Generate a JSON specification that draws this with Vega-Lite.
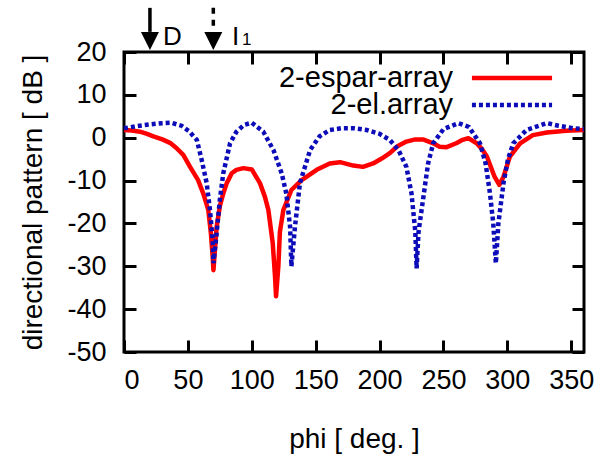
{
  "$schema": "https://vega.github.io/schema/vega-lite/v6.json",
  "width": 460,
  "height": 300,
  "autosize": {"type": "none"},
  "padding": {"left": 124, "top": 52, "right": 29, "bottom": 103},
  "background": "white",
  "config": {
    "font": "Liberation Sans",
    "view": {"stroke": "black", "strokeWidth": 3},
    "axis": {
      "domain": false,
      "grid": false,
      "ticks": true,
      "offset": -12,
      "tickColor": "#000000",
      "tickWidth": 3,
      "tickSize": 12,
      "labelColor": "black",
      "titleColor": "black",
      "labelFontSize": 27,
      "titleFontSize": 28,
      "titleFontWeight": "normal"
    }
  },
  "datasets": {
    "curves": [
      {"phi": 0, "dB": 1.8, "series": "2-espar-array"},
      {"phi": 6, "dB": 1.7, "series": "2-espar-array"},
      {"phi": 12.5, "dB": 1.4, "series": "2-espar-array"},
      {"phi": 18, "dB": 0.9, "series": "2-espar-array"},
      {"phi": 23, "dB": 0.3, "series": "2-espar-array"},
      {"phi": 30, "dB": -0.4, "series": "2-espar-array"},
      {"phi": 36, "dB": -1.2, "series": "2-espar-array"},
      {"phi": 41, "dB": -2.4, "series": "2-espar-array"},
      {"phi": 46.4, "dB": -4.0, "series": "2-espar-array"},
      {"phi": 51.7, "dB": -6.8, "series": "2-espar-array"},
      {"phi": 58, "dB": -9.9, "series": "2-espar-array"},
      {"phi": 62, "dB": -13.0, "series": "2-espar-array"},
      {"phi": 66, "dB": -16.9, "series": "2-espar-array"},
      {"phi": 68, "dB": -22.3, "series": "2-espar-array"},
      {"phi": 69.4, "dB": -27.8, "series": "2-espar-array"},
      {"phi": 70, "dB": -30.9, "series": "2-espar-array"},
      {"phi": 72.5, "dB": -20.8, "series": "2-espar-array"},
      {"phi": 75, "dB": -16.0, "series": "2-espar-array"},
      {"phi": 77.7, "dB": -13.0, "series": "2-espar-array"},
      {"phi": 80.4, "dB": -10.6, "series": "2-espar-array"},
      {"phi": 84.3, "dB": -8.3, "series": "2-espar-array"},
      {"phi": 88, "dB": -7.5, "series": "2-espar-array"},
      {"phi": 93.4, "dB": -7.1, "series": "2-espar-array"},
      {"phi": 100, "dB": -7.4, "series": "2-espar-array"},
      {"phi": 106.4, "dB": -10.6, "series": "2-espar-array"},
      {"phi": 110.3, "dB": -13.8, "series": "2-espar-array"},
      {"phi": 113, "dB": -16.9, "series": "2-espar-array"},
      {"phi": 116.4, "dB": -24.6, "series": "2-espar-array"},
      {"phi": 118.2, "dB": -32.4, "series": "2-espar-array"},
      {"phi": 119, "dB": -37.0, "series": "2-espar-array"},
      {"phi": 120.8, "dB": -30.0, "series": "2-espar-array"},
      {"phi": 122, "dB": -22.0, "series": "2-espar-array"},
      {"phi": 124.7, "dB": -16.9, "series": "2-espar-array"},
      {"phi": 131, "dB": -12.2, "series": "2-espar-array"},
      {"phi": 139, "dB": -9.9, "series": "2-espar-array"},
      {"phi": 150.8, "dB": -7.5, "series": "2-espar-array"},
      {"phi": 161, "dB": -6.0, "series": "2-espar-array"},
      {"phi": 169, "dB": -5.7, "series": "2-espar-array"},
      {"phi": 179.5, "dB": -6.5, "series": "2-espar-array"},
      {"phi": 187, "dB": -6.8, "series": "2-espar-array"},
      {"phi": 195, "dB": -6.0, "series": "2-espar-array"},
      {"phi": 202, "dB": -4.8, "series": "2-espar-array"},
      {"phi": 208, "dB": -3.6, "series": "2-espar-array"},
      {"phi": 214, "dB": -2.0, "series": "2-espar-array"},
      {"phi": 221, "dB": -0.9, "series": "2-espar-array"},
      {"phi": 228, "dB": -0.4, "series": "2-espar-array"},
      {"phi": 234, "dB": -0.4, "series": "2-espar-array"},
      {"phi": 242, "dB": -1.3, "series": "2-espar-array"},
      {"phi": 247, "dB": -2.1, "series": "2-espar-array"},
      {"phi": 252.5, "dB": -2.2, "series": "2-espar-array"},
      {"phi": 260, "dB": -1.3, "series": "2-espar-array"},
      {"phi": 265, "dB": -0.5, "series": "2-espar-array"},
      {"phi": 269.5, "dB": -0.1, "series": "2-espar-array"},
      {"phi": 276, "dB": -1.3, "series": "2-espar-array"},
      {"phi": 280, "dB": -2.6, "series": "2-espar-array"},
      {"phi": 284, "dB": -4.4, "series": "2-espar-array"},
      {"phi": 290, "dB": -9.1, "series": "2-espar-array"},
      {"phi": 293.7, "dB": -11.0, "series": "2-espar-array"},
      {"phi": 297, "dB": -9.1, "series": "2-espar-array"},
      {"phi": 302, "dB": -4.4, "series": "2-espar-array"},
      {"phi": 310, "dB": -1.3, "series": "2-espar-array"},
      {"phi": 320, "dB": 0.6, "series": "2-espar-array"},
      {"phi": 331, "dB": 1.2, "series": "2-espar-array"},
      {"phi": 346, "dB": 1.6, "series": "2-espar-array"},
      {"phi": 360, "dB": 1.8, "series": "2-espar-array"},
      {"phi": 0, "dB": 2.2, "series": "2-el.array"},
      {"phi": 10, "dB": 2.7, "series": "2-el.array"},
      {"phi": 20, "dB": 3.1, "series": "2-el.array"},
      {"phi": 30, "dB": 3.4, "series": "2-el.array"},
      {"phi": 37, "dB": 3.5, "series": "2-el.array"},
      {"phi": 45, "dB": 2.8, "series": "2-el.array"},
      {"phi": 51, "dB": 1.5, "series": "2-el.array"},
      {"phi": 57, "dB": -0.5, "series": "2-el.array"},
      {"phi": 60.8, "dB": -5.2, "series": "2-el.array"},
      {"phi": 64.7, "dB": -10.6, "series": "2-el.array"},
      {"phi": 67.3, "dB": -16.9, "series": "2-el.array"},
      {"phi": 69.4, "dB": -23.9, "series": "2-el.array"},
      {"phi": 70, "dB": -29.3, "series": "2-el.array"},
      {"phi": 72.5, "dB": -22.3, "series": "2-el.array"},
      {"phi": 75, "dB": -14.5, "series": "2-el.array"},
      {"phi": 77.7, "dB": -8.3, "series": "2-el.array"},
      {"phi": 83, "dB": -1.3, "series": "2-el.array"},
      {"phi": 88, "dB": 1.4, "series": "2-el.array"},
      {"phi": 94, "dB": 3.0, "series": "2-el.array"},
      {"phi": 100, "dB": 3.5, "series": "2-el.array"},
      {"phi": 109, "dB": 1.4, "series": "2-el.array"},
      {"phi": 117, "dB": -2.9, "series": "2-el.array"},
      {"phi": 123.4, "dB": -8.3, "series": "2-el.array"},
      {"phi": 127, "dB": -13.0, "series": "2-el.array"},
      {"phi": 130, "dB": -20.8, "series": "2-el.array"},
      {"phi": 131, "dB": -30.0, "series": "2-el.array"},
      {"phi": 133.8, "dB": -20.8, "series": "2-el.array"},
      {"phi": 137.7, "dB": -10.6, "series": "2-el.array"},
      {"phi": 145.6, "dB": -2.9, "series": "2-el.array"},
      {"phi": 153, "dB": 0.3, "series": "2-el.array"},
      {"phi": 161, "dB": 1.8, "series": "2-el.array"},
      {"phi": 170, "dB": 2.2, "series": "2-el.array"},
      {"phi": 180, "dB": 2.2, "series": "2-el.array"},
      {"phi": 190, "dB": 1.8, "series": "2-el.array"},
      {"phi": 200, "dB": 0.9, "series": "2-el.array"},
      {"phi": 208, "dB": -0.5, "series": "2-el.array"},
      {"phi": 215, "dB": -3.0, "series": "2-el.array"},
      {"phi": 221, "dB": -6.8, "series": "2-el.array"},
      {"phi": 225, "dB": -13.0, "series": "2-el.array"},
      {"phi": 228, "dB": -22.0, "series": "2-el.array"},
      {"phi": 229, "dB": -30.5, "series": "2-el.array"},
      {"phi": 230.5, "dB": -22.0, "series": "2-el.array"},
      {"phi": 234, "dB": -14.5, "series": "2-el.array"},
      {"phi": 238, "dB": -6.0, "series": "2-el.array"},
      {"phi": 242, "dB": -1.3, "series": "2-el.array"},
      {"phi": 250, "dB": 2.0, "series": "2-el.array"},
      {"phi": 261.6, "dB": 3.4, "series": "2-el.array"},
      {"phi": 270, "dB": 2.5, "series": "2-el.array"},
      {"phi": 278.6, "dB": -1.3, "series": "2-el.array"},
      {"phi": 283, "dB": -6.0, "series": "2-el.array"},
      {"phi": 286.4, "dB": -13.0, "series": "2-el.array"},
      {"phi": 289, "dB": -20.0, "series": "2-el.array"},
      {"phi": 291, "dB": -29.3, "series": "2-el.array"},
      {"phi": 293, "dB": -20.0, "series": "2-el.array"},
      {"phi": 297, "dB": -10.6, "series": "2-el.array"},
      {"phi": 300.5, "dB": -5.0, "series": "2-el.array"},
      {"phi": 304.7, "dB": -1.3, "series": "2-el.array"},
      {"phi": 315, "dB": 1.8, "series": "2-el.array"},
      {"phi": 331, "dB": 3.4, "series": "2-el.array"},
      {"phi": 340, "dB": 2.8, "series": "2-el.array"},
      {"phi": 351.6, "dB": 2.2, "series": "2-el.array"},
      {"phi": 360, "dB": 2.0, "series": "2-el.array"}
    ],
    "legend": [
      {"series": "2-espar-array", "tx": 257.5, "x1": 272.3, "x2": 335, "ly": 13.93},
      {"series": "2-el.array", "tx": 257.5, "x1": 272.3, "x2": 335, "ly": 7.63}
    ],
    "arrows": [
      {"name": "D", "phi": 20.3, "top": 30.3, "bottom": 24.7, "head": 22.57, "lx": 30.5, "ly": 21.63},
      {"name": "I", "phi": 69.9, "top": 30.3, "bottom": 24.7, "head": 22.57, "lx": 84.5, "ly": 21.63}
    ]
  },
  "layer": [
    {
      "data": {"name": "curves"},
      "transform": [{"filter": "datum.series === '2-espar-array'"}],
      "mark": {"type": "line", "color": "#ff0000", "strokeWidth": 4.5, "strokeJoin": "round"},
      "encoding": {
        "x": {"field": "phi", "type": "quantitative", "scale": {"domain": [0, 360], "nice": false},
          "axis": {"orient": "bottom", "values": [0, 50, 100, 150, 200, 250, 300, 350], "labelExpr": "'' + datum.value", "title": "phi [ deg. ]", "labelPadding": 15, "titlePadding": 32}},
        "y": {"field": "dB", "type": "quantitative", "scale": {"domain": [-50, 20], "nice": false},
          "axis": {"orient": "left", "values": [-50, -40, -30, -20, -10, 0, 10, 20], "labelExpr": "'' + datum.value", "title": "directional pattern [ dB ]", "labelPadding": 18, "titlePadding": 19}}
      }
    },
    {
      "data": {"name": "curves"},
      "transform": [{"filter": "datum.series === '2-el.array'"}],
      "mark": {"type": "line", "color": "#0c0cb8", "strokeWidth": 4.5, "strokeDash": [4, 3]},
      "encoding": {
        "x": {"field": "phi", "type": "quantitative", "scale": {"domain": [0, 360], "nice": false},
          "axis": {"orient": "top", "values": [0, 50, 100, 150, 200, 250, 300, 350], "labels": false, "title": null}},
        "y": {"field": "dB", "type": "quantitative", "scale": {"domain": [-50, 20], "nice": false},
          "axis": {"orient": "right", "values": [-50, -40, -30, -20, -10, 0, 10, 20], "labels": false, "title": null}}
      }
    },
    {
      "data": {"name": "legend"},
      "mark": {"type": "text", "align": "right", "baseline": "middle", "fontSize": 29, "font": "Liberation Sans", "color": "black"},
      "encoding": {
        "x": {"field": "tx", "type": "quantitative", "scale": {"domain": [0, 360], "nice": false}, "axis": null},
        "y": {"field": "ly", "type": "quantitative", "scale": {"domain": [-50, 20], "nice": false}, "axis": null},
        "text": {"field": "series"}
      }
    },
    {
      "data": {"name": "legend"},
      "transform": [{"filter": "datum.series === '2-espar-array'"}],
      "mark": {"type": "rule", "color": "#ff0000", "strokeWidth": 4.5},
      "encoding": {
        "x": {"field": "x1", "type": "quantitative", "scale": {"domain": [0, 360], "nice": false}, "axis": null},
        "x2": {"field": "x2"},
        "y": {"field": "ly", "type": "quantitative", "scale": {"domain": [-50, 20], "nice": false}, "axis": null}
      }
    },
    {
      "data": {"name": "legend"},
      "transform": [{"filter": "datum.series === '2-el.array'"}],
      "mark": {"type": "rule", "color": "#0c0cb8", "strokeWidth": 4.5, "strokeDash": [4, 3]},
      "encoding": {
        "x": {"field": "x1", "type": "quantitative", "scale": {"domain": [0, 360], "nice": false}, "axis": null},
        "x2": {"field": "x2"},
        "y": {"field": "ly", "type": "quantitative", "scale": {"domain": [-50, 20], "nice": false}, "axis": null}
      }
    },
    {
      "data": {"name": "arrows"},
      "transform": [{"filter": "datum.name === 'D'"}],
      "mark": {"type": "rule", "color": "black", "strokeWidth": 3.5},
      "encoding": {
        "x": {"field": "phi", "type": "quantitative", "scale": {"domain": [0, 360], "nice": false}, "axis": null},
        "y": {"field": "top", "type": "quantitative", "scale": {"domain": [-50, 20], "nice": false}, "axis": null},
        "y2": {"field": "bottom"}
      }
    },
    {
      "data": {"name": "arrows"},
      "transform": [{"filter": "datum.name === 'I'"}],
      "mark": {"type": "rule", "color": "black", "strokeWidth": 3.5, "strokeDash": [6, 6]},
      "encoding": {
        "x": {"field": "phi", "type": "quantitative", "scale": {"domain": [0, 360], "nice": false}, "axis": null},
        "y": {"field": "top", "type": "quantitative", "scale": {"domain": [-50, 20], "nice": false}, "axis": null},
        "y2": {"field": "bottom"}
      }
    },
    {
      "data": {"name": "arrows"},
      "mark": {"type": "point", "shape": "M-1,-1L1,-1L0,1Z", "size": 324, "filled": true, "color": "black", "opacity": 1},
      "encoding": {
        "x": {"field": "phi", "type": "quantitative", "scale": {"domain": [0, 360], "nice": false}, "axis": null},
        "y": {"field": "head", "type": "quantitative", "scale": {"domain": [-50, 20], "nice": false}, "axis": null}
      }
    },
    {
      "data": {"name": "arrows"},
      "mark": {"type": "text", "align": "left", "baseline": "alphabetic", "fontSize": 26, "font": "Liberation Sans", "color": "black"},
      "encoding": {
        "x": {"field": "lx", "type": "quantitative", "scale": {"domain": [0, 360], "nice": false}, "axis": null},
        "y": {"field": "ly", "type": "quantitative", "scale": {"domain": [-50, 20], "nice": false}, "axis": null},
        "text": {"field": "name"}
      }
    },
    {
      "data": {"name": "arrows"},
      "transform": [{"filter": "datum.name === 'I'"}],
      "mark": {"type": "text", "align": "left", "baseline": "alphabetic", "fontSize": 17, "font": "Liberation Sans", "color": "black", "dx": 10},
      "encoding": {
        "x": {"field": "lx", "type": "quantitative", "scale": {"domain": [0, 360], "nice": false}, "axis": null},
        "y": {"field": "ly", "type": "quantitative", "scale": {"domain": [-50, 20], "nice": false}, "axis": null},
        "text": {"value": "1"}
      }
    }
  ]
}
